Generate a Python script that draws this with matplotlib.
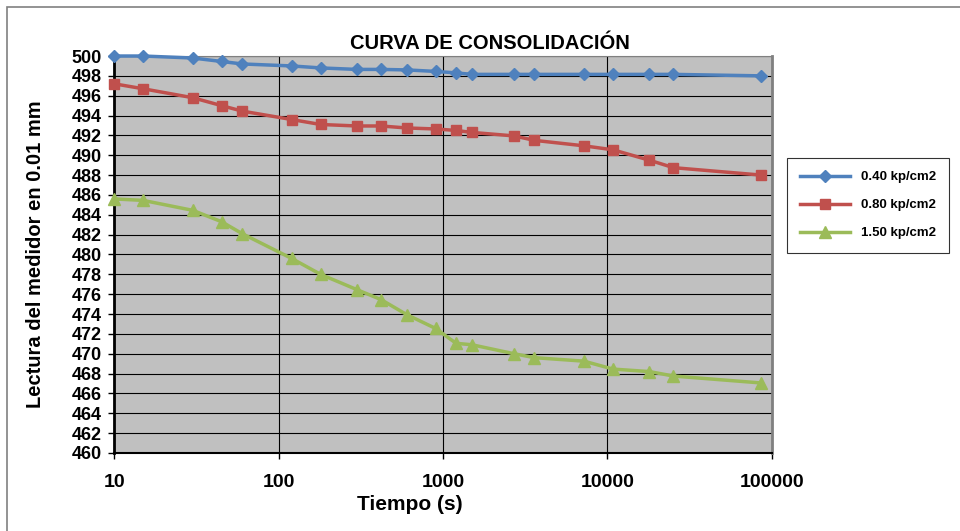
import matplotlib.pyplot as plt
from matplotlib.patches import Rectangle
from matplotlib.ticker import FixedLocator, FixedFormatter, NullLocator

plt.rcParams['font.family'] = ['Liberation Sans', 'DejaVu Sans']

# tiempo (s)
tiempo = [10, 15, 30, 45, 60, 120, 180, 300, 420, 600, 900, 1200, 1500,
          2700, 3600, 7200, 10800, 18000, 25200, 86400]

# lecturas del medidor (0.01 mm)
carga_040 = [500.0, 500.0, 499.8, 499.45, 499.2, 499.0, 498.8, 498.65, 498.65, 498.6,
             498.45, 498.3, 498.15, 498.15, 498.15, 498.15, 498.15, 498.15, 498.15, 498.0]
carga_080 = [497.2, 496.7, 495.8, 495.0, 494.45, 493.6, 493.1, 492.95, 492.95, 492.75,
             492.65, 492.5, 492.3, 491.95, 491.5, 490.95, 490.55, 489.5, 488.75, 488.0]
carga_150 = [485.6, 485.45, 484.45, 483.3, 482.1, 479.6, 478.0, 476.45, 475.45, 473.95,
             472.55, 471.05, 470.9, 470.0, 469.6, 469.25, 468.45, 468.2, 467.75, 467.05]

series = [
    ("0.40 kp/cm2", carga_040, "#4F81BD", "D", 6),
    ("0.80 kp/cm2", carga_080, "#C0504D", "s", 7.5),
    ("1.50 kp/cm2", carga_150, "#9BBB59", "^", 8.5),
]

fig = plt.figure(figsize=(9.6, 5.31), dpi=100)
# marco del area del grafico (solo borde superior e izquierdo visibles)
fig.patches.append(Rectangle((7 / 960, -0.1), 1.2, 1.1 - 7 / 531, transform=fig.transFigure,
                             fill=False, edgecolor="#808080", lw=1.2))

ax = fig.add_axes([0.119, 0.147, 0.685, 0.7475])
ax.set_facecolor("#C0C0C0")

for nombre, vals, color, marca, ms in series:
    ax.plot(tiempo, vals, color=color, lw=2.5, marker=marca, ms=ms,
            label=nombre, clip_on=False, zorder=3)

ax.set_xscale("log")
ax.set_xlim(10, 100000)
ax.set_ylim(460, 500)
ax.xaxis.set_major_locator(FixedLocator([10, 100, 1000, 10000, 100000]))
ax.xaxis.set_major_formatter(FixedFormatter(["10", "100", "1000", "10000", "100000"]))
ax.xaxis.set_minor_locator(NullLocator())
ax.set_yticks(range(460, 501, 2))

ax.grid(True, color="black", lw=0.8, zorder=0)
ax.set_axisbelow(True)
ax.tick_params(axis="both", direction="out", length=4, width=1)
ax.tick_params(axis="y", labelsize=13, pad=5)
ax.tick_params(axis="x", labelsize=14, pad=11)
for lab in ax.get_xticklabels() + ax.get_yticklabels():
    lab.set_fontweight("bold")

ax.spines["left"].set_linewidth(2)
ax.spines["bottom"].set_linewidth(1.5)
ax.spines["top"].set_color("#808080")
ax.spines["right"].set_color("#808080")
ax.spines["right"].set_linewidth(2)

ax.set_title("CURVA DE CONSOLIDACIÓN", fontsize=14.5, fontweight="bold", pad=5, x=0.571)
ax.set_xlabel("Tiempo (s)", fontsize=15, fontweight="bold", labelpad=3, x=0.45)
ax.set_ylabel("Lectura del medidor en 0.01 mm", fontsize=14.5, fontweight="bold", labelpad=19)

leg = ax.legend(loc="upper left", bbox_to_anchor=(1.013, 0.76), frameon=True,
                fancybox=False, edgecolor="black", prop={"size": 9.5, "weight": "bold"},
                handlelength=3.8, labelspacing=1.2, borderpad=1.0)
leg.get_frame().set_linewidth(0.8)

plt.savefig("out.png", dpi=100)
